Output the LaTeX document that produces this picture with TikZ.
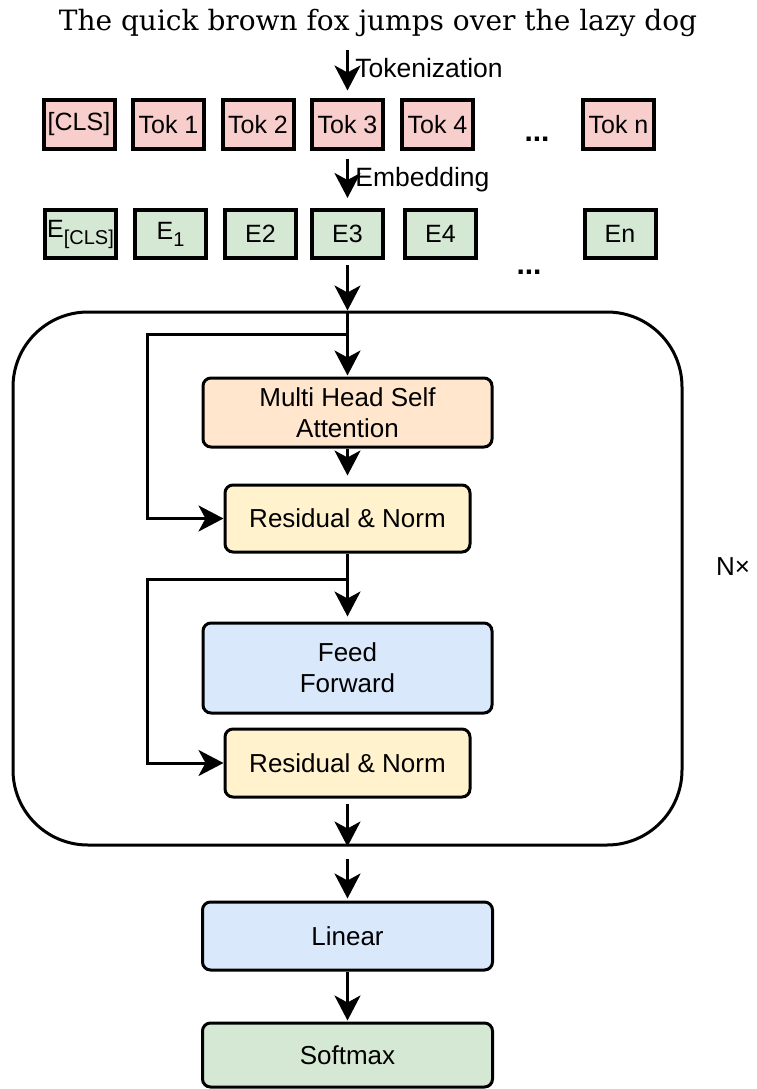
\documentclass[tikz,border=0pt]{standalone}
\usepackage{fontspec}
\setmainfont{Liberation Sans}
\newfontfamily\titrefont{DejaVu Serif}
\usetikzlibrary{arrows.meta}

\definecolor{rougetok}{HTML}{F8CECC}
\definecolor{vertemb}{HTML}{D5E8D4}
\definecolor{orangeatt}{HTML}{FFE6CC}
\definecolor{jaunenorm}{HTML}{FFF2CC}
\definecolor{bleuff}{HTML}{DAE8FC}

\begin{document}
\begin{tikzpicture}[x=1pt, y=-1pt,
  boite/.style={draw, line width=3pt, rounded corners=8pt, inner sep=0pt,
    align=center, font=\fontsize{26}{31}\selectfont},
  jeton/.style={draw, line width=4pt, minimum width=71pt, minimum height=48pt,
    inner sep=0pt, font=\fontsize{25}{28}\selectfont},
  fleche/.style={line width=3pt, -{Stealth[length=25pt, width=26pt, inset=7pt]}},
  etiq/.style={midway, right, xshift=3pt, font=\fontsize{26.5}{30}\selectfont},
  points/.style={font=\fontsize{30}{30}\selectfont\bfseries, anchor=base}]

% Paramètres
\def\cx{347.5}
\useasboundingbox (0,0) rectangle (756,1089);

% Phrase d'entrée
\node[font=\titrefont\fontsize{28}{32}\selectfont, anchor=base, inner sep=0pt]
  (titre) at (378,31) {The quick brown fox jumps over the lazy dog};

% Jetons
\foreach \nom/\x/\txt in {cls/79/{[CLS]}, t1/168.5/Tok 1, t2/258/Tok 2,
    t3/\cx/Tok 3, t4/437.5/Tok 4, tn/618.5/Tok n}
  \node[jeton, fill=rougetok] (\nom) at (\x,124.5) {\txt};
\node[points] (pts1) at (537,142) {...};

% Plongements
\foreach \nom/\x/\txt in {ecls/80.5/{E\raisebox{-7pt}{\fontsize{20}{22}\selectfont[CLS]}},
    e1/170.5/{E\raisebox{-7pt}{\fontsize{20}{22}\selectfont 1}}, e2/260.5/E2,
    e3/\cx/E3, e4/440.5/E4, en/620/En}
  \node[jeton, fill=vertemb] (\nom) at (\x,234) {\txt};
\node[points] (pts2) at (529,274) {...};

\draw[fleche, shorten <=13pt, shorten >=8pt] (titre.south -| t3.north) -- (t3.north)
  node[etiq] {Tokenization};
\draw[fleche, shorten <=8pt, shorten >=10pt] (t3.south) -- (e3.north)
  node[etiq] {Embedding};

% Bloc encodeur
\node[draw, line width=3pt, rounded corners=75pt, minimum width=669pt,
  minimum height=533pt] (bloc) at (\cx,578.5) {};
\node[font=\fontsize{26}{30}\selectfont] (rep) at (733,567) {N×};

\node[boite, fill=orangeatt, minimum width=289pt, minimum height=69pt]
  (mha) at (\cx,412.5) {Multi Head Self\\Attention};
\node[boite, fill=jaunenorm, minimum width=245pt, minimum height=67pt]
  (rn1) at (\cx,518.5) {Residual \& Norm};
\node[boite, fill=bleuff, minimum width=289pt, minimum height=90pt]
  (ff) at (\cx,668) {Feed\\Forward};
\node[boite, fill=jaunenorm, minimum width=245pt, minimum height=68pt]
  (rn2) at (\cx,763) {Residual \& Norm};

% Sortie
\node[boite, fill=bleuff, minimum width=290pt, minimum height=68pt]
  (lin) at (\cx,936) {Linear};
\node[boite, fill=vertemb, minimum width=290pt, minimum height=64pt]
  (soft) at (\cx,1055) {Softmax};

% Flèches
\draw[fleche, shorten <=5pt] (e3.south) -- (e3.south |- bloc.north);
\draw[fleche, shorten >=1pt] (bloc.north) -- (mha.north);
\draw[fleche, shorten >=8pt] (mha.south) -- (rn1.north);
\draw[fleche, shorten >=5pt] (rn1.south) -- (ff.north);
\draw[fleche, shorten <=5pt] (rn2.south) -- (bloc.south);
\draw[fleche, shorten <=12pt, shorten >=2pt] (bloc.south) -- (lin.north);
\draw[fleche, shorten >=1pt] (lin.south) -- (soft.north);

% Connexions résiduelles
\coordinate (emb1) at (\cx,334);
\coordinate (emb2) at (\cx,579);
\draw[fleche] (emb1) -- ++(-200,0) |- (rn1.west);
\draw[fleche] (emb2) -- ++(-200,0) |- (rn2.west);

\end{tikzpicture}
\end{document}
